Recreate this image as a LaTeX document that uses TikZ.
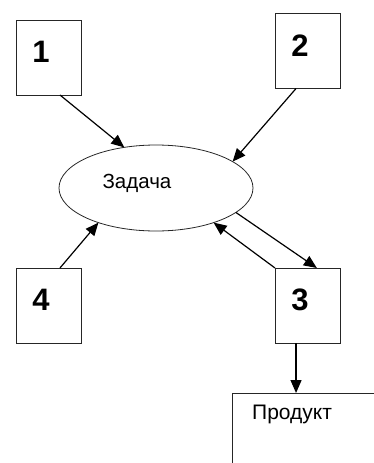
\documentclass[tikz,border=0pt]{standalone}
\usepackage{fontspec}
\setmainfont{Liberation Sans}
\usetikzlibrary{shapes.geometric, arrows.meta}
\tikzset{
    numbox/.style = {rectangle, draw=black!85, line width=0.9pt, minimum width=65pt, minimum height=75pt, inner sep=0pt, outer sep=0pt, label={[numtext]center:#1}},
    numtext/.style = {font=\fontsize{31}{31}\selectfont\bfseries, xshift=-7.5pt, yshift=5.5pt, inner sep=0pt},
    task/.style = {ellipse, draw=black!85, line width=0.8pt, minimum width=194pt, minimum height=86pt, inner sep=0pt, outer sep=0pt, label={[tasktext]center:#1}},
    tasktext/.style = {font=\fontsize{20.5}{20.5}\selectfont, xshift=-19pt, yshift=5pt, inner sep=0pt},
    product/.style = {rectangle, draw=black!85, line width=0.9pt, anchor=north west, minimum width=160pt, minimum height=90pt, inner sep=0pt, outer sep=0pt, label={[prodtext]north west:#1}},
    prodtext/.style = {font=\fontsize{21}{21}\selectfont, anchor=north west, xshift=20pt, yshift=-12pt, inner sep=0pt},
    arrow/.style = {line width=1.2pt, -{Triangle[length=13pt, width=11pt]}}
}

\begin{document}
\begin{tikzpicture}[x=1pt, y=-1pt]
    \useasboundingbox (0,0) rectangle (374,463);
    \clip (0,0) rectangle (374,463);

    \node (b1) [numbox=1] at (48.5, 57.5) {};
    \node (b2) [numbox=2] at (307.5, 51) {};
    \node (b4) [numbox=4] at (48.5, 305.5) {};
    \node (b3) [numbox=3] at (307.5, 305.5) {};

    \node (task) [task=Задача] at (156, 188) {};
    \node (prod) [product=Продукт] at (232, 393) {};

    \draw [arrow] (b1.-73) -- (task.128);
    \draw [arrow] (b2.-107) -- (task.19);
    \draw [arrow] (b4.73) -- (task.211);
    \draw [arrow] (b3.north west) -- (task.-31);
    \draw [arrow] (task.-17) -- (b3.76);
    \draw [arrow] (b3.-107) -- (b3.-107 |- prod.north);
\end{tikzpicture}
\end{document}
